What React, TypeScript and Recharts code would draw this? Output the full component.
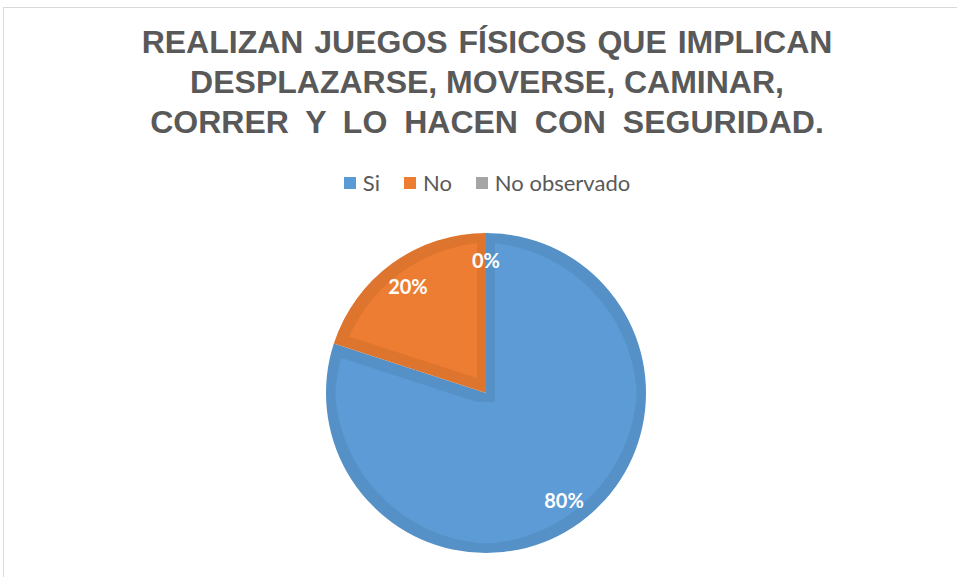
import { Cell, Pie, PieChart } from "recharts";

const CATEGORIES = ["Si", "No", "No observado"];
const VALUES = [80, 20, 0];
const COLORS = ["#5B9BD5", "#ED7D31", "#A5A5A5"];
const TITLE_LINES = [
  "REALIZAN JUEGOS FÍSICOS QUE IMPLICAN",
  "DESPLAZARSE, MOVERSE, CAMINAR,",
  "CORRER Y LO HACEN CON SEGURIDAD.",
];
// Excel spreads some title lines with wider word gaps
const WORD_GAPS = [2, 0, 8];

const data = CATEGORIES.map((name, i) => ({ name, value: VALUES[i] }));

const RAD = Math.PI / 180;

function renderLabel(props: any) {
  const { cx, cy, midAngle, outerRadius, percent } = props;
  const r = outerRadius * 0.83;
  const x = cx + r * Math.cos(-midAngle * RAD);
  const y = cy + r * Math.sin(-midAngle * RAD);
  return (
    <text
      x={x}
      y={y}
      fill="#ffffff"
      textAnchor="middle"
      dominantBaseline="central"
      style={{ fontFamily: "Lato, sans-serif", fontWeight: 700, fontSize: 20 }}
    >
      {`${Math.round(percent * 100)}%`}
    </text>
  );
}

function ChartLegend() {
  return (
    <div
      style={{
        position: "absolute",
        left: 0,
        top: 170,
        width: 974,
        display: "flex",
        justifyContent: "center",
        alignItems: "center",
        fontFamily: "Lato, sans-serif",
        fontSize: 22,
        lineHeight: "26px",
        color: "#595959",
      }}
    >
      {CATEGORIES.map((c, i) => (
        <div
          key={c}
          style={{ display: "flex", alignItems: "center", marginRight: i < 2 ? 24 : 0 }}
        >
          <span
            style={{
              display: "inline-block",
              width: 12,
              height: 12,
              background: COLORS[i],
              marginRight: 7,
            }}
          />
          <span>{c}</span>
        </div>
      ))}
    </div>
  );
}

export default function App() {
  return (
    <div
      style={{
        position: "absolute",
        left: 0,
        top: 0,
        width: 957,
        height: 577,
        background: "#ffffff",
        overflow: "hidden",
      }}
    >
      <div
        style={{
          position: "absolute",
          left: 3,
          top: 7,
          width: 970,
          height: 600,
          border: "1px solid #d9d9d9",
        }}
      />
      <div
        style={{
          position: "absolute",
          left: 0,
          top: 22,
          width: 974,
          textAlign: "center",
          fontFamily: "'Liberation Sans', Arial, sans-serif",
          fontWeight: 700,
          fontSize: 32,
          lineHeight: "40px",
          color: "#595959",
        }}
      >
        {TITLE_LINES.map((l, i) => (
          <div key={l} style={{ wordSpacing: WORD_GAPS[i] }}>
            {l}
          </div>
        ))}
      </div>
      <ChartLegend />
      <PieChart
        width={957}
        height={577}
        margin={{ top: 0, right: 0, bottom: 0, left: 0 }}
        style={{ position: "absolute", left: 0, top: 0 }}
      >
        <defs>
          <filter id="innerEdge" x="-5%" y="-5%" width="110%" height="110%">
            <feColorMatrix
              in="SourceGraphic"
              type="matrix"
              values="0.86 0 0 0 0  0 0.86 0 0 0  0 0 0.86 0 0  0 0 0 1 0"
              result="dark"
            />
            <feMorphology in="SourceGraphic" operator="erode" radius="9" result="inner" />
            <feMerge>
              <feMergeNode in="dark" />
              <feMergeNode in="inner" />
            </feMerge>
          </filter>
        </defs>
        <Pie
          data={data}
          dataKey="value"
          nameKey="name"
          cx={486}
          cy={393}
          outerRadius={160}
          startAngle={90}
          endAngle={-270}
          stroke="none"
          label={renderLabel}
          labelLine={false}
          isAnimationActive={false}
        >
          {data.map((d, i) => (
            <Cell key={d.name} fill={COLORS[i]} filter="url(#innerEdge)" />
          ))}
        </Pie>
      </PieChart>
    </div>
  );
}
